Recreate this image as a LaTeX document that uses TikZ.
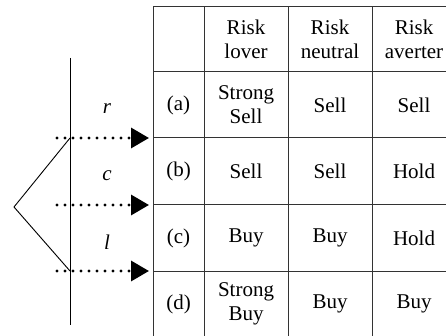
\documentclass[tikz,border=0pt]{standalone}
\usepackage{fontspec}
\setmainfont{Liberation Serif}
\usetikzlibrary{arrows.meta,positioning}

\begin{document}
\begin{tikzpicture}[
	x=1pt,y=-1pt,
	cell/.style={
		draw=black!80,
		line width=1pt,
		inner sep=0pt,
		minimum height=#1,
		align=center,
		font=\fontsize{21}{24}\selectfont
	},
	cell/.default=66pt,
	tag/.style={font=\fontsize{21}{24}\selectfont\itshape},
	arr/.style={-{Triangle[length=18pt,width=20pt]},line width=3.2pt,line cap=round,dash pattern=on 0pt off 8pt},
	branch/.style={line width=0.9pt}
	]
	\useasboundingbox (0,0) rectangle (446,336);
	% header row
	\node[cell=65pt,minimum width=51pt] (h0) at (178.5,39.5) {};
	\node[cell=65pt,minimum width=84pt] (h1) at (246,39.5) {Risk\\lover};
	\node[cell=65pt,minimum width=84pt] (h2) at (330,39.5) {Risk\\neutral};
	\node[cell=65pt,minimum width=84pt] (h3) at (414,39.5) {Risk\\averter};
	% row (a)
	\node[cell,minimum width=51pt] (a0) at (178.5,105) {(a)};
	\node[cell,minimum width=84pt] (a1) at (246,105) {Strong\\Sell};
	\node[cell,minimum width=84pt] (a2) at (330,105) {Sell};
	\node[cell,minimum width=84pt] (a3) at (414,105) {Sell};
	% row (b)
	\node[cell=67pt,minimum width=51pt] (b0) at (178.5,171.5) {(b)};
	\node[cell=67pt,minimum width=84pt] (b1) at (246,171.5) {Sell};
	\node[cell=67pt,minimum width=84pt] (b2) at (330,171.5) {Sell};
	\node[cell=67pt,minimum width=84pt] (b3) at (414,171.5) {Hold};
	% row (c)
	\node[cell,minimum width=51pt] (c0) at (178.5,238) {(c)};
	\node[cell,minimum width=84pt] (c1) at (246,238) {Buy};
	\node[cell,minimum width=84pt] (c2) at (330,238) {Buy};
	\node[cell,minimum width=84pt] (c3) at (414,238) {Hold};
	% row (d)
	\node[cell,minimum width=51pt] (d0) at (178.5,304) {(d)};
	\node[cell,minimum width=84pt] (d1) at (246,304) {Strong\\Buy};
	\node[cell,minimum width=84pt] (d2) at (330,304) {Buy};
	\node[cell,minimum width=84pt] (d3) at (414,304) {Buy};

	% time line and the two branches
	\coordinate (top) at (70,58);
	\coordinate (bot) at (70,325);
	\coordinate (apex) at (14,207);
	\coordinate (up) at (70,138);
	\coordinate (low) at (70,271);
	\draw[branch] (top) -- (bot);
	\draw[branch] (up) -- (apex) -- (low);

	% dotted arrows into the table
	\coordinate (s1) at (57,138);
	\coordinate (s2) at (57,205);
	\coordinate (s3) at (57,271);
	\coordinate (e1) at (149,138);
	\coordinate (e2) at (149,205);
	\coordinate (e3) at (149,271);
	\draw[arr] (s1) -- (e1);
	\draw[arr] (s2) -- (e2);
	\draw[arr] (s3) -- (e3);

	\node[tag] (r) at (107,109) {r};
	\node[tag] (c) at (107,176) {c};
	\node[tag] (l) at (107,242) {l};
\end{tikzpicture}
\end{document}
